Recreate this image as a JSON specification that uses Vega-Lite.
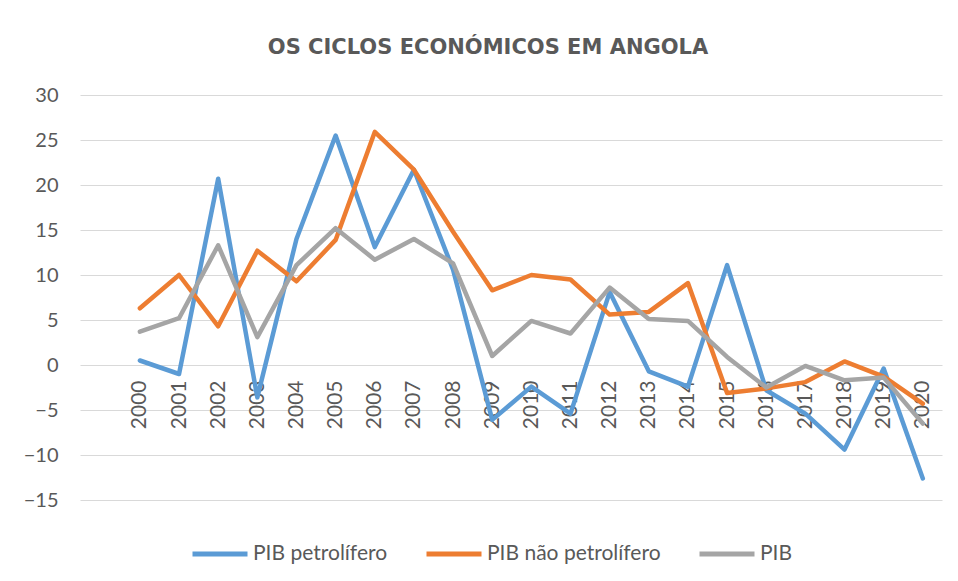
{
  "$schema": "https://vega.github.io/schema/vega-lite/v6.json",
  "autosize": {"type": "none"},
  "padding": {"left": 80, "top": 95, "right": 16, "bottom": 81},
  "width": 862,
  "height": 405,
  "background": "white",
  "title": {
    "text": "OS CICLOS ECONÓMICOS EM ANGOLA",
    "font": "DejaVu Sans",
    "fontWeight": "bold",
    "fontSize": 21,
    "color": "#595959",
    "anchor": "middle",
    "offset": 27,
    "dx": -23
  },
  "data": {
    "values": [
      {"ano": 2000, "serie": "PIB petrolífero", "valor": 0.5},
      {"ano": 2001, "serie": "PIB petrolífero", "valor": -1.0},
      {"ano": 2002, "serie": "PIB petrolífero", "valor": 20.7},
      {"ano": 2003, "serie": "PIB petrolífero", "valor": -3.6},
      {"ano": 2004, "serie": "PIB petrolífero", "valor": 14.0},
      {"ano": 2005, "serie": "PIB petrolífero", "valor": 25.5},
      {"ano": 2006, "serie": "PIB petrolífero", "valor": 13.1},
      {"ano": 2007, "serie": "PIB petrolífero", "valor": 21.7},
      {"ano": 2008, "serie": "PIB petrolífero", "valor": 10.6},
      {"ano": 2009, "serie": "PIB petrolífero", "valor": -6.1},
      {"ano": 2010, "serie": "PIB petrolífero", "valor": -2.4},
      {"ano": 2011, "serie": "PIB petrolífero", "valor": -5.4},
      {"ano": 2012, "serie": "PIB petrolífero", "valor": 8.1},
      {"ano": 2013, "serie": "PIB petrolífero", "valor": -0.7},
      {"ano": 2014, "serie": "PIB petrolífero", "valor": -2.4},
      {"ano": 2015, "serie": "PIB petrolífero", "valor": 11.1},
      {"ano": 2016, "serie": "PIB petrolífero", "valor": -2.8},
      {"ano": 2017, "serie": "PIB petrolífero", "valor": -5.4},
      {"ano": 2018, "serie": "PIB petrolífero", "valor": -9.4},
      {"ano": 2019, "serie": "PIB petrolífero", "valor": -0.4},
      {"ano": 2020, "serie": "PIB petrolífero", "valor": -12.6},
      {"ano": 2000, "serie": "PIB não petrolífero", "valor": 6.3},
      {"ano": 2001, "serie": "PIB não petrolífero", "valor": 10.0},
      {"ano": 2002, "serie": "PIB não petrolífero", "valor": 4.3},
      {"ano": 2003, "serie": "PIB não petrolífero", "valor": 12.7},
      {"ano": 2004, "serie": "PIB não petrolífero", "valor": 9.3},
      {"ano": 2005, "serie": "PIB não petrolífero", "valor": 13.9},
      {"ano": 2006, "serie": "PIB não petrolífero", "valor": 25.9},
      {"ano": 2007, "serie": "PIB não petrolífero", "valor": 21.7},
      {"ano": 2008, "serie": "PIB não petrolífero", "valor": 14.8},
      {"ano": 2009, "serie": "PIB não petrolífero", "valor": 8.3},
      {"ano": 2010, "serie": "PIB não petrolífero", "valor": 10.0},
      {"ano": 2011, "serie": "PIB não petrolífero", "valor": 9.5},
      {"ano": 2012, "serie": "PIB não petrolífero", "valor": 5.6},
      {"ano": 2013, "serie": "PIB não petrolífero", "valor": 5.9},
      {"ano": 2014, "serie": "PIB não petrolífero", "valor": 9.1},
      {"ano": 2015, "serie": "PIB não petrolífero", "valor": -3.1},
      {"ano": 2016, "serie": "PIB não petrolífero", "valor": -2.6},
      {"ano": 2017, "serie": "PIB não petrolífero", "valor": -1.9},
      {"ano": 2018, "serie": "PIB não petrolífero", "valor": 0.4},
      {"ano": 2019, "serie": "PIB não petrolífero", "valor": -1.3},
      {"ano": 2020, "serie": "PIB não petrolífero", "valor": -4.3},
      {"ano": 2000, "serie": "PIB", "valor": 3.7},
      {"ano": 2001, "serie": "PIB", "valor": 5.2},
      {"ano": 2002, "serie": "PIB", "valor": 13.3},
      {"ano": 2003, "serie": "PIB", "valor": 3.1},
      {"ano": 2004, "serie": "PIB", "valor": 11.1},
      {"ano": 2005, "serie": "PIB", "valor": 15.2},
      {"ano": 2006, "serie": "PIB", "valor": 11.7},
      {"ano": 2007, "serie": "PIB", "valor": 14.0},
      {"ano": 2008, "serie": "PIB", "valor": 11.3},
      {"ano": 2009, "serie": "PIB", "valor": 1.0},
      {"ano": 2010, "serie": "PIB", "valor": 4.9},
      {"ano": 2011, "serie": "PIB", "valor": 3.5},
      {"ano": 2012, "serie": "PIB", "valor": 8.6},
      {"ano": 2013, "serie": "PIB", "valor": 5.1},
      {"ano": 2014, "serie": "PIB", "valor": 4.9},
      {"ano": 2015, "serie": "PIB", "valor": 0.9},
      {"ano": 2016, "serie": "PIB", "valor": -2.5},
      {"ano": 2017, "serie": "PIB", "valor": -0.1},
      {"ano": 2018, "serie": "PIB", "valor": -1.7},
      {"ano": 2019, "serie": "PIB", "valor": -1.4},
      {"ano": 2020, "serie": "PIB", "valor": -6.5}
    ]
  },
  "mark": {"type": "line", "strokeWidth": 4.5, "strokeJoin": "round", "strokeCap": "round"},
  "encoding": {
    "x": {
      "field": "ano",
      "type": "quantitative",
      "scale": {"domain": [1998.47, 2020.49], "nice": false, "zero": false},
      "axis": {
        "title": null,
        "values": [2000, 2001, 2002, 2003, 2004, 2005, 2006, 2007, 2008, 2009, 2010, 2011, 2012, 2013, 2014, 2015, 2016, 2017, 2018, 2019, 2020],
        "format": "d",
        "labelAngle": -90,
        "labelAlign": "right",
        "labelBaseline": "middle",
        "labelPadding": 15,
        "labelFont": "Lato",
        "labelFontSize": 21,
        "labelColor": "#595959",
        "labelOverlap": false,
        "labelFlush": false,
        "grid": false,
        "ticks": false,
        "domain": false,
        "offset": -135
      }
    },
    "y": {
      "field": "valor",
      "type": "quantitative",
      "scale": {"domain": [-15, 30], "nice": false},
      "axis": {
        "title": null,
        "values": [-15, -10, -5, 0, 5, 10, 15, 20, 25, 30],
        "labelFont": "Lato",
        "labelFontSize": 20,
        "labelColor": "#595959",
        "labelPadding": 22,
        "ticks": false,
        "domain": false,
        "grid": true,
        "gridColor": "#D9D9D9",
        "gridWidth": 1
      }
    },
    "color": {
      "field": "serie",
      "type": "nominal",
      "scale": {
        "domain": ["PIB petrolífero", "PIB não petrolífero", "PIB"],
        "range": ["#5B9BD5", "#ED7D31", "#A5A5A5"]
      },
      "legend": {
        "title": null,
        "orient": "none",
        "legendX": 110,
        "legendY": 429,
        "direction": "horizontal",
        "symbolType": "stroke",
        "symbolSize": 3025,
        "symbolStrokeWidth": 5,
        "labelFont": "Lato",
        "labelFontSize": 21,
        "labelColor": "#595959",
        "labelOffset": 3,
        "labelLimit": 400,
        "columnPadding": 28
      }
    }
  },
  "config": {
    "view": {"stroke": null}
  }
}
